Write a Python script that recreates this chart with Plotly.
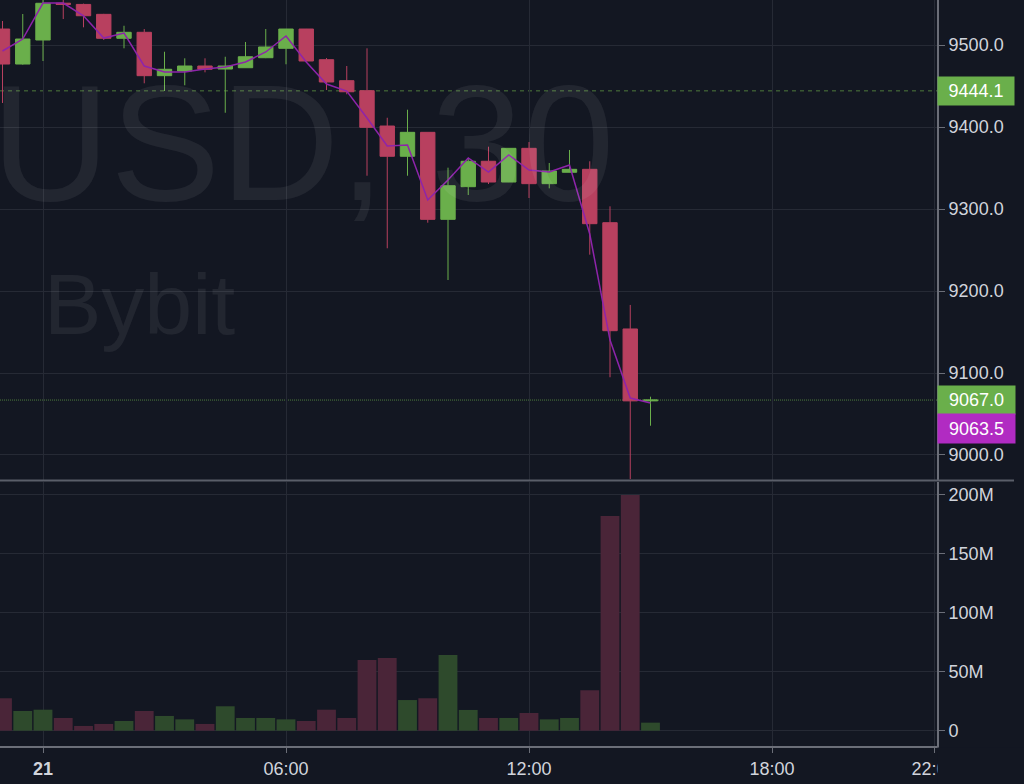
import plotly.graph_objects as go
import pandas as pd

# ---------------- data ----------------
times = pd.date_range("2020-05-20 23:00", periods=33, freq="30min")

open_ = [9519.5, 9476.8, 9506.1, 9551.0, 9549.5, 9537.4, 9508.2, 9515.5, 9462.6, 9468.3,
         9474.4, 9470.7, 9472.3, 9484.5, 9496.0, 9519.5, 9482.1, 9456.5, 9444.3, 9401.2,
         9364.3, 9393.5, 9287.4, 9327.2, 9358.2, 9332.9, 9374.0, 9330.9, 9344.8, 9348.4,
         9283.3, 9153.7, 9066.0]
high = [9529.3, 9537.8, 9556.0, 9557.0, 9550.5, 9538.0, 9523.5, 9519.5, 9491.8, 9483.8,
        9483.8, 9485.7, 9503.7, 9519.5, 9519.6, 9519.6, 9484.1, 9474.4, 9496.0, 9411.3,
        9421.1, 9393.6, 9350.4, 9361.8, 9376.0, 9374.1, 9381.7, 9356.1, 9372.0, 9358.2,
        9303.3, 9183.0, 9071.1]
low = [9429.3, 9476.0, 9480.5, 9531.7, 9521.6, 9506.1, 9496.0, 9453.3, 9443.9, 9450.9,
       9466.7, 9417.4, 9472.0, 9484.0, 9476.5, 9480.0, 9445.1, 9439.9, 9340.6, 9252.1,
       9340.6, 9283.3, 9213.4, 9317.1, 9330.5, 9332.8, 9313.4, 9325.2, 9344.7, 9244.3,
       9094.8, 8970.7, 9035.7]
close = [9476.8, 9507.3, 9550.9, 9549.5, 9535.7, 9508.2, 9515.5, 9462.6, 9470.4, 9474.4,
         9470.4, 9474.4, 9485.7, 9497.6, 9519.5, 9480.5, 9454.9, 9443.0, 9399.6, 9364.3,
         9393.5, 9287.4, 9328.4, 9358.2, 9332.9, 9374.0, 9330.9, 9346.3, 9348.4, 9282.1,
         9151.6, 9066.0, 9067.0]

# purple reference line (index price)
index_price = [9492.7, 9507.3, 9551.2, 9551.2, 9535.7, 9508.5, 9514.6, 9474.4, 9467.1, 9467.1,
               9470.7, 9473.2, 9479.3, 9491.5, 9511.0, 9479.3, 9452.4, 9443.9, 9411.0, 9376.8,
               9378.0, 9311.0, 9335.4, 9362.2, 9345.1, 9365.9, 9347.6, 9345.1, 9353.7, 9269.5,
               9140.2, 9069.5, 9063.5]

# volume in millions
volume_m = [27.5, 16.7, 17.8, 10.8, 4.0, 5.7, 8.2, 16.7, 12.5, 9.6,
            5.7, 20.7, 10.8, 10.8, 9.6, 8.2, 17.8, 10.8, 60.0, 61.7,
            26.0, 27.5, 64.2, 17.6, 10.8, 10.8, 15.0, 9.6, 10.8, 34.3,
            182.2, 200.0, 6.8]

ref_price = 9444.1
last_price = 9067.0
mark_price = 9063.5

price_ticks = [9000, 9100, 9200, 9300, 9400, 9500]
price_tick_labels = ["9000.0", "9100.0", "9200.0", "9300.0", "9400.0", "9500.0"]
vol_ticks = [0, 50, 100, 150, 200]
vol_tick_labels = ["0", "50M", "100M", "150M", "200M"]
time_ticks = ["2020-05-21 00:00", "2020-05-21 06:00", "2020-05-21 12:00",
              "2020-05-21 18:00", "2020-05-21 22:00"]
time_tick_labels = ["<b>21</b>", "06:00", "12:00", "18:00", "22:00"]

watermark_symbol = "USD, 30"
watermark_exchange = "Bybit"

# ---------------- styling ----------------
BG = "#131722"
GRID = "#262a35"
AXIS = "#6b6e78"
UP = "#6aaf4b"
DOWN = "#b8405f"
UP_VOL = "#2e4a2c"
DOWN_VOL = "#4a2538"
PURPLE = "#8e24aa"
MAGENTA = "#b12bc2"
TXT = "#d1d4dc"
FONT = "Liberation Sans, Arial, sans-serif"

W, H = 1024, 784
ML, MR, MT, MB = 0, 87, 0, 38
PW, PH = W - ML - MR, H - MT - MB
x_range = ["2020-05-20 22:56:18", "2020-05-21 22:04:27"]

fig = go.Figure()

fig.add_trace(go.Scatter(
    x=times, y=index_price, mode="lines",
    line=dict(color=PURPLE, width=1.5),
    xaxis="x2", yaxis="y", hoverinfo="skip", showlegend=False))

fig.add_trace(go.Candlestick(
    x=times, open=open_, high=high, low=low, close=close,
    xaxis="x2", yaxis="y", whiskerwidth=0,
    increasing=dict(line=dict(color=UP, width=1), fillcolor=UP),
    decreasing=dict(line=dict(color=DOWN, width=1), fillcolor=DOWN),
    showlegend=False))

vol_colors = [UP_VOL if c >= o else DOWN_VOL for o, c in zip(open_, close)]
fig.add_trace(go.Bar(
    x=times, y=volume_m, marker=dict(color=vol_colors, line=dict(width=0)),
    xaxis="x", yaxis="y2", showlegend=False))

axis_font = dict(family=FONT, size=18, color=TXT)
split_px = 480.5
price_dom = [(PH - 480) / PH, 1]
vol_dom = [0, (PH - 482) / PH]

fig.update_layout(
    width=W, height=H,
    margin=dict(l=ML, r=MR, t=MT, b=MB, pad=0),
    paper_bgcolor=BG, plot_bgcolor=BG,
    showlegend=False,
    bargap=0.07,
    boxgap=0.29, boxgroupgap=0,
    xaxis=dict(domain=[0, 1], anchor="y2", type="date", range=x_range,
               tickmode="array", tickvals=time_ticks, ticktext=time_tick_labels,
               showgrid=True, gridcolor=GRID, gridwidth=1,
               showline=True, linecolor=AXIS, linewidth=2,
               ticks="outside", ticklen=5, tickcolor=AXIS, tickwidth=1,
               tickfont=axis_font, zeroline=False, ticklabelstandoff=0),
    xaxis2=dict(domain=[0, 1], anchor="y", type="date", range=x_range, matches="x",
                tickmode="array", tickvals=time_ticks, showticklabels=False,
                showgrid=True, gridcolor=GRID, gridwidth=1,
                showline=False, ticks="", zeroline=False,
                rangeslider=dict(visible=False)),
    yaxis=dict(domain=price_dom, anchor="x2", side="right",
               range=[8969.5, 9554.9],
               tickmode="array", tickvals=price_ticks, ticktext=price_tick_labels,
               showgrid=True, gridcolor=GRID, gridwidth=1,
               showline=True, linecolor=AXIS, linewidth=2,
               ticks="outside", ticklen=6, tickcolor=AXIS, tickwidth=1,
               tickfont=axis_font, zeroline=False),
    yaxis2=dict(domain=vol_dom, anchor="x", side="right",
                range=[-13, 211],
                tickmode="array", tickvals=vol_ticks, ticktext=vol_tick_labels,
                showgrid=True, gridcolor=GRID, gridwidth=1,
                showline=True, linecolor=AXIS, linewidth=2,
                ticks="outside", ticklen=6, tickcolor=AXIS, tickwidth=1,
                tickfont=axis_font, zeroline=False),
)

shapes = [
    # pane separator
    dict(type="line", xref="paper", yref="paper",
         x0=0, x1=1014 / PW, y0=(PH - split_px) / PH, y1=(PH - split_px) / PH,
         line=dict(color="#5a5e69", width=2), layer="above"),
    # reference price dashed line
    dict(type="line", xref="paper", yref="y", x0=0, x1=1, y0=ref_price, y1=ref_price,
         line=dict(color="#4e7a3c", width=1, dash="4px,4px"), layer="below"),
    # last price dotted line
    dict(type="line", xref="paper", yref="y", x0=0, x1=1, y0=last_price, y1=last_price,
         line=dict(color="#4e7a3c", width=1, dash="1px,1px"), layer="below"),
    # cover the clipped end of the last time label under the price scale
    dict(type="rect", xref="paper", yref="paper",
         x0=(PW + 0.5) / PW, x1=W / PW, y0=-MB / PH - 0.01, y1=-1.5 / PH,
         fillcolor=BG, line=dict(width=0), layer="above"),
]

label_font = dict(family=FONT, size=18, color="#ffffff")
annotations = [
    dict(text=watermark_symbol, xref="paper", yref="paper", x=617 / PW, y=(PH - 143) / PH,
         xanchor="right", yanchor="middle", showarrow=False,
         font=dict(family=FONT, size=165, color="rgba(255,255,255,0.065)")),
    dict(text=watermark_exchange, xref="paper", yref="paper", x=42 / PW, y=(PH - 304) / PH,
         xanchor="left", yanchor="middle", showarrow=False,
         font=dict(family=FONT, size=86, color="rgba(255,255,255,0.065)")),
    dict(text=f"{ref_price:.1f}", xref="paper", yref="y", x=1, y=ref_price,
         xanchor="left", yanchor="middle", showarrow=False, bgcolor=UP,
         width=72, height=24, borderpad=2, align="center", font=label_font),
    dict(text=f"{last_price:.1f}", xref="paper", yref="y", x=1, y=last_price,
         xanchor="left", yanchor="middle", showarrow=False, bgcolor=UP,
         width=73, height=24, borderpad=2, align="center", font=label_font),
    dict(text=f"{mark_price:.1f}", xref="paper", yref="y", x=1, y=mark_price, yshift=-26,
         xanchor="left", yanchor="middle", showarrow=False, bgcolor=MAGENTA,
         width=73, height=25, borderpad=2, align="center", font=label_font),
]

fig.update_layout(shapes=shapes, annotations=annotations)

fig.write_html(
    "out.html",
    config={"displayModeBar": False},
    post_script="document.body.style.margin='0';document.body.style.overflow='hidden';",
)
